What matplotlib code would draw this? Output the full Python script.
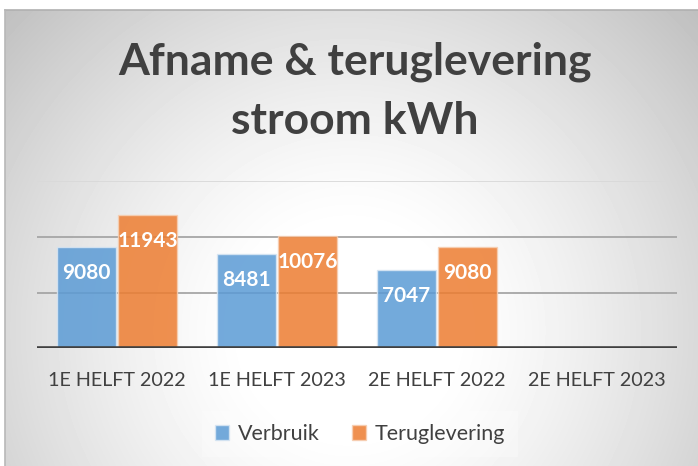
import numpy as np
import matplotlib
matplotlib.use('Agg')
import matplotlib.pyplot as plt

categories = ['1E HELFT 2022', '1E HELFT 2023', '2E HELFT 2022', '2E HELFT 2023']
verbruik = [9080, 8481, 7047, np.nan]
teruglevering = [11943, 10076, 9080, np.nan]
series_names = ['Verbruik', 'Teruglevering']

BLUE = '#5B9BD5'
ORANGE = '#ED7D31'
TEXT = '#404040'

plt.rcParams['font.family'] = ['Lato', 'DejaVu Sans']

W, H = 698, 466
fig = plt.figure(figsize=(W / 100, H / 100), dpi=100)
fig.patch.set_facecolor('white')

# radial grey -> white background of the chart area
bg = fig.add_axes([5 / W, 0, 1 - 5 / W, (H - 10) / H])
yy, xx = np.mgrid[10:H, 5:W]
r = np.hypot(xx - 349, yy - 330)
t = np.clip((r - 100) / 400, 0, 1)
shade = (255 - 70 * t ** 1.3) / 255
bg.imshow(shade, cmap='gray', vmin=0, vmax=1, aspect='auto', interpolation='bilinear')
bg.set_axis_off()
fig.add_artist(plt.Line2D([5 / W, 1], [(H - 10) / H] * 2, color='#b0b0b0', lw=1.2))
fig.add_artist(plt.Line2D([5 / W] * 2, [0, (H - 10) / H], color='#b8b8b8', lw=1.2))

fig.text(0.508, (H - 62) / H, 'Afname & teruglevering', ha='center', va='center',
         fontsize=32, fontweight='bold', color=TEXT)
fig.text(0.508, (H - 121) / H, 'stroom kWh', ha='center', va='center',
         fontsize=32, fontweight='bold', color=TEXT)

ax = fig.add_axes([37 / W, (H - 348.3) / H, 640 / W, 167.3 / H])
ax.patch.set_alpha(0)
x = np.arange(len(categories))
bw = 0.372
b1 = ax.bar(x - 0.19, verbruik, bw, color=BLUE, alpha=0.85, edgecolor='#d8e6f3', lw=1, zorder=3)
b2 = ax.bar(x + 0.19, teruglevering, bw, color=ORANGE, alpha=0.85, edgecolor='#f6cfb3', lw=1, zorder=3)

for bars, vals in ((b1, verbruik), (b2, teruglevering)):
    for rect, v in zip(bars, vals):
        if np.isnan(v):
            continue
        ax.annotate(f'{v:.0f}', (rect.get_x() + rect.get_width() / 2, v),
                    xytext=(0, -19), textcoords='offset points', ha='center', va='center',
                    color='white', fontsize=15, fontweight='bold', zorder=5)

ax.set_xlim(-0.5, len(categories) - 0.5)
ax.set_ylim(0, 15000)
ax.set_yticks([0, 5000, 10000, 15000])
ax.set_yticklabels([])
ax.yaxis.grid(True, color='#a6a6a6', lw=1.3, zorder=1)
ax.get_ygridlines()[-1].set_color('#d9d9d9')
ax.axhline(0, color=TEXT, lw=2.6, zorder=4)
ax.tick_params(length=0)
ax.set_xticks(x)
ax.set_xticklabels(categories, fontsize=14.2, color=TEXT)
ax.tick_params(axis='x', pad=17)
for s in ax.spines.values():
    s.set_visible(False)

leg = fig.legend([b1, b2], series_names, loc='center', bbox_to_anchor=(360 / W, (H - 434) / H),
                 ncol=2, frameon=True, fontsize=15.5, handlelength=0.65, handleheight=0.65,
                 handletextpad=0.4, columnspacing=1.5, borderpad=0.6)
leg.get_frame().set_facecolor('white')
leg.get_frame().set_alpha(0.25)
leg.get_frame().set_edgecolor('none')
leg.get_frame().set_boxstyle('square', pad=0)
for txt in leg.get_texts():
    txt.set_color(TEXT)

fig.savefig('out.png', dpi=100)
